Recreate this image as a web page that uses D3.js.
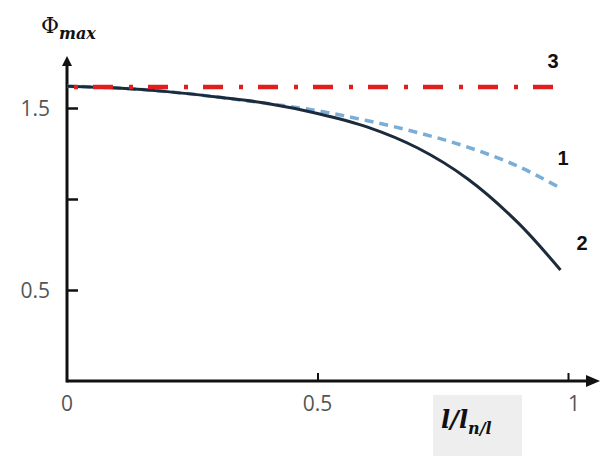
<!DOCTYPE html>
<html><head><meta charset="utf-8">
<script src="https://cdn.jsdelivr.net/npm/d3@7"></script>
<style>body{margin:0;background:#fff}svg{display:block}</style>
</head><body>
<svg id="c" width="601" height="456"></svg>
<script>
// Data
const xTicks = [0, 0.5, 1];
const xTickLabels = ["0", "0.5", "1"];
const yTicks = [0.5, 1.0, 1.5];
const yTickLabels = ["0.5", "", "1.5"];
const curve1X = [0, 0.1, 0.2, 0.3, 0.4, 0.5, 0.6, 0.7, 0.8, 0.9, 0.985];
const curve1Y = [1.62, 1.61, 1.59, 1.56, 1.525, 1.485, 1.43, 1.365, 1.285, 1.18, 1.06];
const curve2X = [0, 0.1, 0.2, 0.3, 0.4, 0.5, 0.6, 0.7, 0.8, 0.9, 0.985];
const curve2Y = [1.62, 1.61, 1.59, 1.56, 1.525, 1.47, 1.395, 1.28, 1.11, 0.87, 0.61];
const curve3X = [0, 1];
const curve3Y = [1.615, 1.615];
const curveLabels = ["1", "2", "3"];

const svg = d3.select("#c");
const x = d3.scaleLinear().domain([0, 1]).range([67, 568]);
const y = d3.scaleLinear().domain([0, 1.5]).range([381, 108]);

// axes
svg.append("line").attr("x1", x(0)).attr("x2", 590).attr("y1", y(0)).attr("y2", y(0))
  .attr("stroke", "#111").attr("stroke-width", 3);
svg.append("path").attr("d", `M600,${y(0)} L586,${y(0)-6} L586,${y(0)+6}Z`).attr("fill", "#111");
svg.append("line").attr("x1", x(0)).attr("x2", x(0)).attr("y1", y(0)+1.5).attr("y2", 64)
  .attr("stroke", "#111").attr("stroke-width", 3);
svg.append("path").attr("d", `M${x(0)},56 L${x(0)-5},66 L${x(0)+5},66Z`).attr("fill", "#111");

const yAxis = d3.axisRight(y).tickValues(yTicks).tickSize(11).tickFormat("");
const ya = svg.append("g").attr("transform", `translate(${x(0)},0)`).call(yAxis);
ya.select(".domain").remove();
ya.selectAll("line").attr("stroke", "#111").attr("stroke-width", 2.5);

const xAxis = d3.axisTop(x).tickValues(xTicks.slice(1)).tickSize(8).tickFormat("");
const xa = svg.append("g").attr("transform", `translate(0,${y(0)})`).call(xAxis);
xa.select(".domain").remove();
xa.selectAll("line").attr("stroke", "#111").attr("stroke-width", 2);

// tick labels
yTicks.forEach((v, i) => {
  if (!yTickLabels[i]) return;
  svg.append("text").attr("x", 50).attr("y", y(v) + 8).attr("text-anchor", "end")
    .attr("font-family", "Open Sans, sans-serif").attr("font-size", 21).attr("fill", "#555")
    .text(yTickLabels[i]);
});
xTicks.forEach((v, i) => {
  svg.append("text").attr("x", x(v) + (i === 2 ? 6 : 0)).attr("y", 411).attr("text-anchor", "middle")
    .attr("font-family", "Open Sans, sans-serif").attr("font-size", 21).attr("fill", "#555")
    .text(xTickLabels[i]);
});

// lines
const line = d3.line().x(d => x(d[0])).y(d => y(d[1])).curve(d3.curveCatmullRom);
const z = (a, b) => a.map((v, i) => [v, b[i]]);
svg.append("path").attr("d", line(z(curve1X, curve1Y))).attr("fill", "none")
  .attr("stroke", "#7aaed6").attr("stroke-width", 3.5).attr("stroke-dasharray", "9,6");
svg.append("path").attr("d", line(z(curve2X, curve2Y))).attr("fill", "none")
  .attr("stroke", "#1c2b3c").attr("stroke-width", 3);
svg.append("path").attr("d", line(z(curve3X, curve3Y))).attr("fill", "none")
  .attr("stroke", "#e01e1e").attr("stroke-width", 4.5).attr("stroke-dasharray", "20,16,4,15")
  .attr("stroke-dashoffset", -26);

// curve labels
const lab = [[563, 165, curveLabels[0]], [582, 250, curveLabels[1]], [553, 68, curveLabels[2]]];
lab.forEach(d => svg.append("text").attr("x", d[0]).attr("y", d[1]).attr("text-anchor", "middle")
  .attr("font-family", "Liberation Sans, Arial, sans-serif").attr("font-weight", "bold")
  .attr("font-size", 20).attr("fill", "#111").text(d[2]));

// axis titles
const t = svg.append("text").attr("x", 41).attr("y", 33)
  .attr("font-family", "DejaVu Serif, serif").attr("fill", "#111");
t.append("tspan").attr("font-size", 22).text("Φ");
t.append("tspan").attr("dy", 6).attr("font-size", 16).attr("font-style", "italic").attr("font-weight", "bold").text("max");

svg.append("rect").attr("x", 433).attr("y", 395).attr("width", 89).attr("height", 61).attr("fill", "#eeeeee");
const xt = svg.append("text").attr("x", 441).attr("y", 428)
  .attr("font-family", "DejaVu Serif, serif").attr("font-style", "italic").attr("font-weight", "bold").attr("fill", "#111");
xt.append("tspan").attr("font-size", 24).text("l/l");
xt.append("tspan").attr("dy", 6).attr("font-size", 16).text("n/l");
</script>
</body></html>
